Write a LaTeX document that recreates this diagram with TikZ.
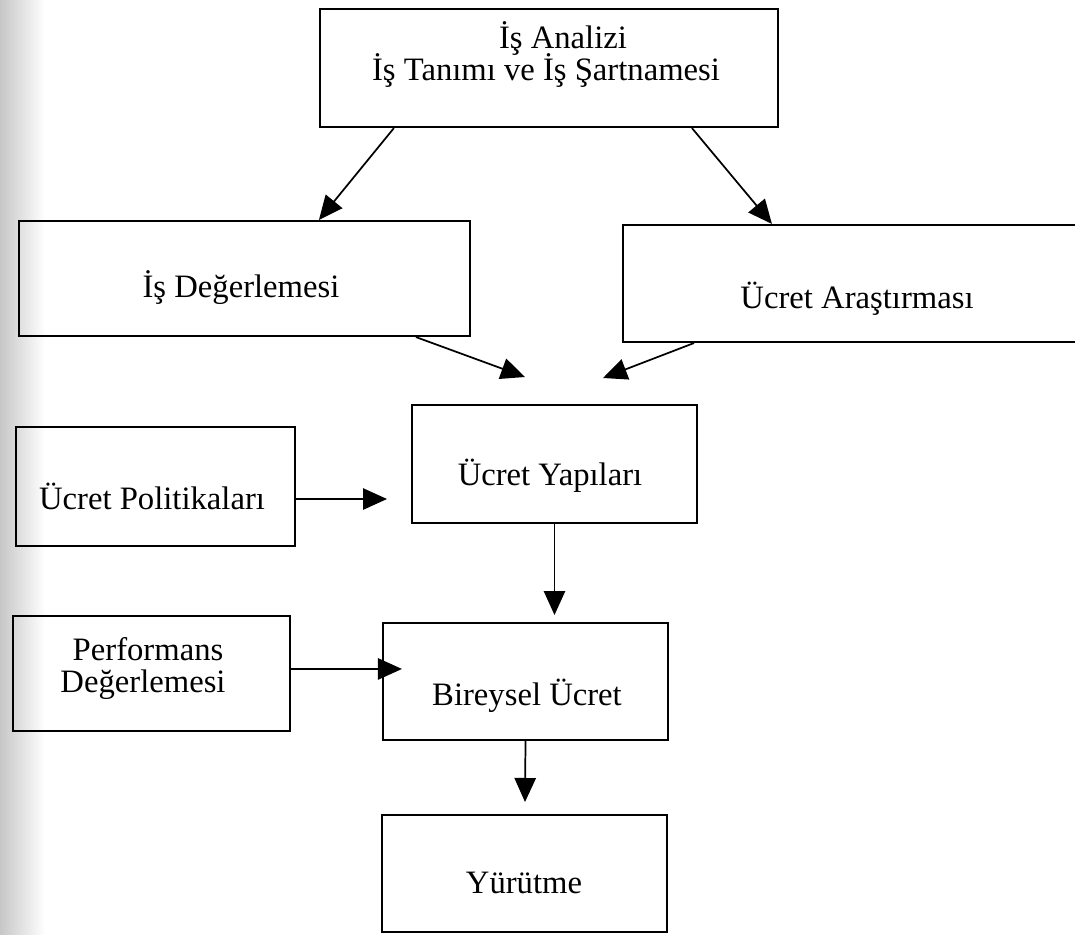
\documentclass[tikz,border=0pt]{standalone}
\usepackage{fontspec}
\setmainfont{Liberation Serif}
\usetikzlibrary{arrows.meta,calc}

\begin{document}
\begin{tikzpicture}[x=0.75pt,y=-0.75pt,
  kutu/.style={draw, line width=1.6pt, inner sep=0pt,
    minimum width=213.75pt, minimum height=88pt},
  yazi/.style={anchor=base, inner sep=0pt,
    font=\fontsize{24.5}{24}\selectfont},
  ok/.style={line width=1.3pt, -{Triangle[length=18pt,width=16pt]}}]
\useasboundingbox (0,0) rectangle (1075,935);
% scanned page edge
\shade[left color=black!22, right color=white] (0,0) rectangle (45,935);

% kutular
\node[kutu, minimum width=343.5pt, minimum height=88.5pt] (analiz) at (549,68) {};
\node[kutu, minimum width=338.25pt, minimum height=86.25pt] (degerleme) at (244.5,278.5) {};
\node[kutu, minimum width=354pt, minimum height=87.75pt] (arastirma) at (859,283.5) {};
\node[kutu, minimum width=209.25pt, minimum height=89.25pt] (politika) at (155.5,486.5) {};
\node[kutu] (yapi) at (554.5,464) {};
\node[kutu, minimum width=207.75pt, minimum height=86.25pt] (performans) at (151.5,673.5) {};
\node[kutu] (bireysel) at (525.5,681.5) {};
\node[kutu] (yurutme) at (524.5,873.5) {};

% yazilar
\node[yazi] (analiz-1) at (563,48) {İş Analizi};
\node[yazi] (analiz-2) at (546,80) {İş Tanımı ve İş Şartnamesi};
\node[yazi] (degerleme-y) at (241,297) {İş Değerlemesi};
\node[yazi] (arastirma-y) at (857,308) {Ücret Araştırması};
\node[yazi] (politika-y) at (152,509) {Ücret Politikaları};
\node[yazi] (yapi-y) at (550,485) {Ücret Yapıları};
\node[yazi] (performans-1) at (148,660) {Performans};
\node[yazi] (performans-2) at (143,692) {Değerlemesi};
\node[yazi] (bireysel-y) at (527,705) {Bireysel Ücret};
\node[yazi] (yurutme-y) at (524,893) {Yürütme};

% ok uclari
\coordinate (u1) at (525,377);
\coordinate (u2) at (603,378);
\coordinate (u3) at (387,499);
\coordinate (u4) at (554.5,615);
\coordinate (u5) at (525,802);

\draw[ok] ([xshift=56.25pt]analiz.south west) -- ([xshift=225.75pt]degerleme.north west);
\draw[ok] ([xshift=279.75pt]analiz.south west) -- ([xshift=112.5pt]arastirma.north west);
\draw[ok] ([xshift=298.5pt]degerleme.south west) -- (u1);
\draw[ok] ([xshift=54pt]arastirma.south west) -- (u2);
\draw[ok] ([yshift=-9.4pt]politika.east) -- (u3);
\draw[ok] (yapi.south) -- (u4);
\draw[ok] ([yshift=3.4pt]performans.east) -- ([xshift=15pt,yshift=9.4pt]bireysel.west);
\draw[ok] (bireysel.south) -- (u5);
\end{tikzpicture}
\end{document}
